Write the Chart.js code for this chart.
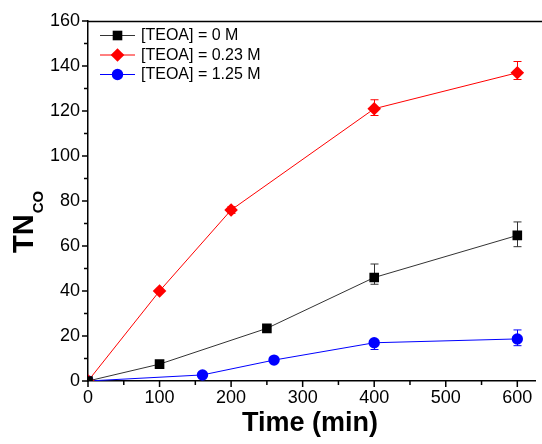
<!DOCTYPE html>
<html>
<head>
<meta charset="utf-8">
<script src="https://cdn.jsdelivr.net/npm/chart.js@4.4.1/dist/chart.umd.min.js"></script>
<style>
  html, body { margin: 0; padding: 0; background: #fff; overflow: hidden; }
  #wrap { width: 542px; height: 444px; position: relative; }
</style>
</head>
<body>
<div id="wrap"><canvas id="tnChart"></canvas></div>
<script>
// series
const seriesNames = ['[TEOA] = 0 M', '[TEOA] = 0.23 M', '[TEOA] = 1.25 M'];

const time0 = [0, 100, 250, 400, 600];
const tn0 = [0, 7.5, 23.4, 46, 64.7];
const err0Up = [0, 0, 0, 6, 6];
const err0Down = [0, 0, 0, 3, 5];

const time023 = [0, 100, 200, 400, 600];
const tn023 = [0, 40, 76, 121, 137];
const err023Up = [0, 0, 1.5, 4, 5];
const err023Down = [0, 0, 1.5, 3, 3];

const time125 = [0, 160, 260, 400, 600];
const tn125 = [0, 2.7, 9.3, 17, 18.7];
const err125Up = [0, 0, 0, 1, 4];
const err125Down = [0, 0, 0, 3, 3];

const xMajorTicks = [0, 100, 200, 300, 400, 500, 600];
const xMinorTicks = [50, 150, 250, 350, 450, 550];
const yMajorTicks = [0, 20, 40, 60, 80, 100, 120, 140, 160];
const yMinorTicks = [10, 30, 50, 70, 90, 110, 130, 150];

const FONT = "'Liberation Sans', Arial, Helvetica, sans-serif";

function points(xs, ys) {
  return xs.map((x, i) => ({ x: x, y: ys[i] }));
}

const styles = [
  { line: '#333333', fill: '#000000', shape: 'rect', r: 6.8 },
  { line: '#ff0000', fill: '#ff0000', shape: 'rectRot', r: 6.8 },
  { line: '#0000ff', fill: '#0000ff', shape: 'circle', r: 5.7 }
];
const errUp = [err0Up, err023Up, err125Up];
const errDown = [err0Down, err023Down, err125Down];

const datasets = [points(time0, tn0), points(time023, tn023), points(time125, tn125)].map((d, i) => ({
  label: seriesNames[i],
  data: d,
  borderColor: styles[i].line,
  borderWidth: 1,
  backgroundColor: styles[i].fill,
  pointBackgroundColor: styles[i].fill,
  pointBorderColor: styles[i].fill,
  pointBorderWidth: 0,
  pointStyle: styles[i].shape,
  pointRadius: styles[i].r,
  pointHoverRadius: styles[i].r,
  showLine: true,
  tension: 0,
  clip: 0
}));

// error bars, drawn under the markers
const errorBars = {
  id: 'errorBars',
  beforeDatasetsDraw(chart) {
    const ctx = chart.ctx, xs = chart.scales.x, ys = chart.scales.y;
    ctx.save();
    chart.data.datasets.forEach((ds, i) => {
      ctx.strokeStyle = styles[i].line;
      ctx.lineWidth = 1;
      ds.data.forEach((p, j) => {
        const up = errUp[i][j], dn = errDown[i][j];
        if (!up && !dn) return;
        const px = Math.round(xs.getPixelForValue(p.x)) + 0.5;
        const top = ys.getPixelForValue(p.y + up);
        const bot = ys.getPixelForValue(p.y - dn);
        ctx.beginPath();
        ctx.moveTo(px, top); ctx.lineTo(px, bot);
        ctx.moveTo(px - 4, top); ctx.lineTo(px + 4, top);
        ctx.moveTo(px - 4, bot); ctx.lineTo(px + 4, bot);
        ctx.stroke();
      });
    });
    ctx.restore();
  }
};

// frame ticks, top border, legend and axis titles
const decorations = {
  id: 'decorations',
  afterDraw(chart) {
    const ctx = chart.ctx, a = chart.chartArea;
    const xs = chart.scales.x, ys = chart.scales.y;
    ctx.save();
    ctx.strokeStyle = '#000';
    ctx.lineWidth = 1.5;
    ctx.beginPath();
    ctx.moveTo(a.left, a.top + 0.5); ctx.lineTo(chart.width, a.top + 0.5);
    xMajorTicks.forEach(v => { const p = xs.getPixelForValue(v); ctx.moveTo(p, a.bottom); ctx.lineTo(p, a.bottom + 6); });
    xMinorTicks.forEach(v => { const p = xs.getPixelForValue(v); ctx.moveTo(p, a.bottom); ctx.lineTo(p, a.bottom + 4); });
    yMajorTicks.forEach(v => { const p = ys.getPixelForValue(v); ctx.moveTo(a.left, p); ctx.lineTo(a.left - 6, p); });
    yMinorTicks.forEach(v => { const p = ys.getPixelForValue(v); ctx.moveTo(a.left, p); ctx.lineTo(a.left - 4, p); });
    ctx.stroke();

    // legend
    ctx.font = '16px ' + FONT;
    ctx.textBaseline = 'middle';
    ctx.textAlign = 'left';
    seriesNames.forEach((name, i) => {
      const y = 35 + i * 19.5;
      ctx.strokeStyle = styles[i].line;
      ctx.lineWidth = 1;
      ctx.beginPath(); ctx.moveTo(100, y + 0.5); ctx.lineTo(135, y + 0.5); ctx.stroke();
      ctx.fillStyle = styles[i].fill;
      ctx.strokeStyle = styles[i].fill;
      Chart.helpers.drawPoint(ctx, { pointStyle: styles[i].shape, radius: styles[i].r, rotation: 0, borderWidth: 0 }, 117.5, y + 0.5);
      ctx.fillStyle = '#000';
      ctx.fillText(name, 141, y + 1);
    });

    // x title
    ctx.fillStyle = '#000';
    ctx.font = 'bold 27px ' + FONT;
    ctx.textAlign = 'center';
    ctx.textBaseline = 'alphabetic';
    ctx.fillText('Time (min)', 310, 431);

    // y title: TN with subscript CO
    ctx.translate(33, 253);
    ctx.rotate(-Math.PI / 2);
    ctx.textAlign = 'left';
    ctx.font = 'bold 29px ' + FONT;
    ctx.fillText('TN', 0, 0);
    const w = ctx.measureText('TN').width;
    ctx.font = 'bold 15px ' + FONT;
    ctx.fillText('CO', w + 1, 10);
    ctx.restore();
  }
};

new Chart(document.getElementById('tnChart'), {
  type: 'scatter',
  data: { datasets: datasets },
  options: {
    responsive: true,
    maintainAspectRatio: false,
    animation: false,
    events: [],
    layout: { padding: { top: 21, right: 0, left: 0, bottom: 0 } },
    plugins: { legend: { display: false }, tooltip: { enabled: false } },
    scales: {
      x: {
        type: 'linear',
        min: 0,
        max: 625,
        afterBuildTicks: s => { s.ticks = xMajorTicks.map(v => ({ value: v })); },
        afterFit: s => { s.height = 63; },
        grid: { display: false, drawTicks: false },
        border: { display: true, color: '#000', width: 1.5 },
        ticks: { color: '#000', padding: 6, maxRotation: 0, font: { family: FONT, size: 18 } }
      },
      y: {
        min: 0,
        max: 160,
        afterBuildTicks: s => { s.ticks = yMajorTicks.map(v => ({ value: v })); },
        afterFit: s => { s.width = 88; },
        grid: { display: false, drawTicks: false },
        border: { display: true, color: '#000', width: 1.5 },
        ticks: { color: '#000', padding: 8, font: { family: FONT, size: 18 } }
      }
    }
  },
  plugins: [errorBars, decorations]
});
</script>
</body>
</html>
